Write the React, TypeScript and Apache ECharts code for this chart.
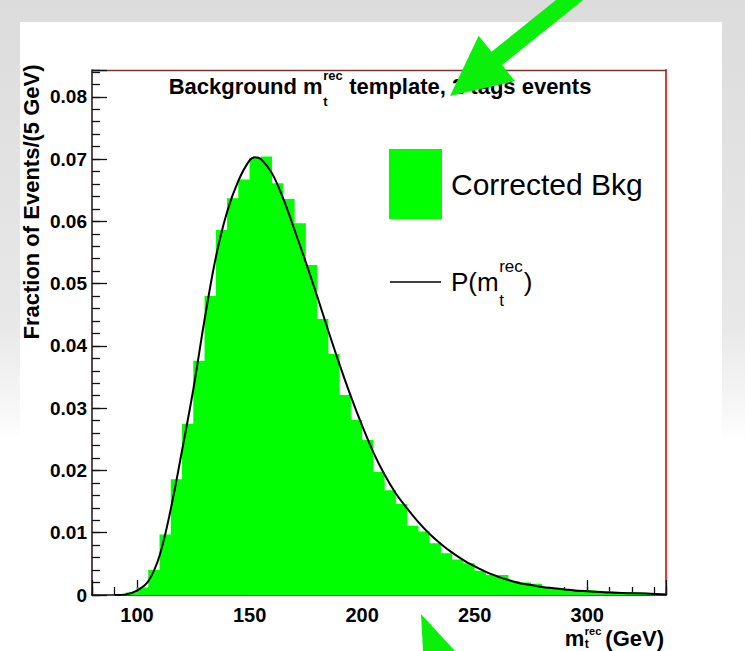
import React, { useEffect, useRef } from "react";
import * as echarts from "echarts";

const FONT = "'Liberation Sans', Arial, Helvetica, sans-serif";

// Histogram: fraction of events per 5 GeV bin (lower bin edges, GeV)
const BIN_WIDTH = 5;
const binLowEdges = [
  95, 100, 105, 110, 115, 120, 125, 130, 135, 140,
  145, 150, 155, 160, 165, 170, 175, 180, 185, 190,
  195, 200, 205, 210, 215, 220, 225, 230, 235, 240,
  245, 250, 255, 260, 265, 270, 275, 280, 285, 290,
  295, 300, 305, 310, 315, 320, 325, 330,
];
const binFractions = [
  0.0004, 0.0012, 0.004, 0.0097, 0.0186, 0.0275, 0.0376, 0.048, 0.0586, 0.0637,
  0.0667, 0.0702, 0.0704, 0.0661, 0.0636, 0.0597, 0.053, 0.0443, 0.0387, 0.0321,
  0.0281, 0.0249, 0.0198, 0.0168, 0.0146, 0.0111, 0.0102, 0.0083, 0.0067, 0.0057,
  0.0051, 0.0039, 0.0032, 0.0032, 0.0022, 0.002, 0.0018, 0.0013, 0.0011, 0.0009,
  0.0008, 0.0007, 0.0006, 0.0005, 0.0005, 0.0004, 0.0003, 0.0002,
];

// Fitted template P(m_t^rec)
const fitMass = [
  90, 95, 100, 105, 110, 115, 120, 125, 130, 135,
  140, 145, 150, 152.5, 155, 160, 165, 170, 175, 180,
  185, 190, 195, 200, 205, 210, 215, 220, 225, 230,
  235, 240, 245, 250, 255, 260, 265, 270, 275, 280,
  285, 290, 295, 300, 310, 320, 335,
];
const fitValue = [
  0, 0.0001, 0.0007, 0.0022, 0.0063, 0.0138, 0.0232, 0.033, 0.0442, 0.0542,
  0.0615, 0.0665, 0.0698, 0.0703, 0.07, 0.0677, 0.0636, 0.0586, 0.0534, 0.048,
  0.0424, 0.037, 0.0319, 0.0272, 0.0229, 0.0193, 0.0163, 0.0139, 0.0117, 0.0098,
  0.0082, 0.0068, 0.0056, 0.0046, 0.0037, 0.003, 0.0024, 0.0019, 0.0016, 0.0013,
  0.0011, 0.0009, 0.0007, 0.0006, 0.0004, 0.0003, 0.0001,
];

const xTickLabels = [100, 150, 200, 250, 300];
const yTickLabels = ["0", "0.01", "0.02", "0.03", "0.04", "0.05", "0.06", "0.07", "0.08"];

const X_MIN = 80;
const X_MAX = 335;
const Y_MIN = 0;
const Y_MAX = 0.0843;

function textWidth(text: string, font: string): number {
  const ctx = document.createElement("canvas").getContext("2d");
  if (!ctx) return text.length * 10;
  ctx.font = font;
  return ctx.measureText(text).width;
}

function txt(x: number, y: number, text: string, font: string, align = "left", extra: any = {}) {
  return {
    type: "text",
    x,
    y,
    z: 50,
    ...extra,
    style: {
      text,
      font,
      fill: "#000",
      align,
      verticalAlign: "middle",
      textAlign: align,
      textVerticalAlign: "middle",
    },
  };
}

function arrowPoints(tail: number[], tip: number[], shaftW: number, headL: number, headW: number) {
  const dx = tip[0] - tail[0];
  const dy = tip[1] - tail[1];
  const len = Math.hypot(dx, dy);
  const ux = dx / len;
  const uy = dy / len;
  const nx = -uy;
  const ny = ux;
  const bx = tip[0] - ux * headL;
  const by = tip[1] - uy * headL;
  return [
    [tail[0] + nx * shaftW / 2, tail[1] + ny * shaftW / 2],
    [bx + nx * shaftW / 2, by + ny * shaftW / 2],
    [bx + nx * headW / 2, by + ny * headW / 2],
    [tip[0], tip[1]],
    [bx - nx * headW / 2, by - ny * headW / 2],
    [bx - nx * shaftW / 2, by - ny * shaftW / 2],
    [tail[0] - nx * shaftW / 2, tail[1] - ny * shaftW / 2],
  ];
}

function buildGraphics() {
  const els: any[] = [];

  // Title: Background m_t^rec template, 2 tags events
  const tFont = `bold 22px ${FONT}`;
  const supFont = `bold 13px ${FONT}`;
  const p1 = "Background m";
  const p2 = " template, 2 tags events";
  const w1 = textWidth(p1, tFont);
  const wS = Math.max(textWidth("rec", supFont), textWidth("t", supFont));
  const w2 = textWidth(p2, tFont);
  const x0 = 380 - (w1 + wS + w2 + 1) / 2;
  els.push(txt(x0, 86, p1, tFont));
  els.push(txt(x0 + w1 + 0.5, 75, "rec", supFont));
  els.push(txt(x0 + w1 + 0.5, 101, "t", supFont));
  els.push(txt(x0 + w1 + wS + 1, 86, p2, tFont));

  // Legend
  els.push({
    type: "rect",
    z: 50,
    shape: { x: 389, y: 149, width: 53, height: 70 },
    style: { fill: "#00ff00" },
  });
  els.push(txt(451, 184, "Corrected Bkg", `30px ${FONT}`));
  els.push({
    type: "line",
    z: 50,
    shape: { x1: 390, y1: 282, x2: 441, y2: 282 },
    style: { stroke: "#000", lineWidth: 1.5 },
  });
  const lFont = `26px ${FONT}`;
  const lSup = `17px ${FONT}`;
  const wp = textWidth("P(m", lFont);
  const wr = Math.max(textWidth("rec", lSup), textWidth("t", lSup));
  els.push(txt(451, 281.5, "P(m", lFont));
  els.push(txt(451 + wp + 0.5, 266, "rec", lSup));
  els.push(txt(451 + wp + 0.5, 300, "t", lSup));
  els.push(txt(451 + wp + wr + 1.5, 281.5, ")", lFont));

  // X-axis title: m_t^rec (GeV), right-aligned to the frame
  const axFont = `bold 22px ${FONT}`;
  const axSup = `bold 11px ${FONT}`;
  const axSub = `bold 12px ${FONT}`;
  const wG = textWidth("(GeV)", axFont);
  const wR = Math.max(textWidth("rec", axSup), textWidth("t", axSub));
  const xG = 664 - wG;
  const xR = xG - 4 - wR;
  els.push(txt(664, 638, "(GeV)", axFont, "right"));
  els.push(txt(xR, 631, "rec", axSup));
  els.push(txt(xR, 644, "t", axSub));
  els.push(txt(xR - 0.5, 638, "m", axFont, "right"));

  // Y-axis title
  els.push(
    txt(31, 202, "Fraction of Events/(5 GeV)", `bold 22px ${FONT}`, "center", {
      rotation: Math.PI / 2,
    })
  );

  // Green arrows
  els.push({
    type: "polygon",
    z: 60,
    shape: { points: arrowPoints([582, -10], [450, 96], 17, 60, 58) },
    style: { fill: "#0bf00b" },
  });
  els.push({
    type: "polygon",
    z: 60,
    shape: { points: [[421, 614], [423, 651], [455, 651]] },
    style: { fill: "#0bf00b" },
  });
  return els;
}

export default function App() {
  const ref = useRef<HTMLDivElement>(null);

  useEffect(() => {
    if (!ref.current) return;
    const chart = echarts.init(ref.current, undefined, { renderer: "svg" });

    // step outline: each bin value holds from its lower edge to the next edge
    const histData: number[][] = binLowEdges.map((b, i) => [b, binFractions[i]]);
    histData.push([binLowEdges[binLowEdges.length - 1] + BIN_WIDTH, 0]);
    const fitData = fitMass.map((m, i) => [m, fitValue[i]]);

    const tickStyle = { color: "#111", width: 1.3 };

    const option: any = {
      animation: false,
      backgroundColor: "transparent",
      grid: { left: 92, right: 79, top: 70, bottom: 56, containLabel: false },
      xAxis: [
        {
          type: "value",
          min: X_MIN,
          max: X_MAX,
          splitNumber: 5,
          position: "bottom",
          axisLine: { show: true, onZero: false, lineStyle: { color: "#111", width: 1.6 } },
          axisTick: { show: true, inside: true, length: 15, lineStyle: tickStyle },
          axisLabel: {
            show: true,
            margin: 10,
            fontSize: 20,
            fontWeight: "bold",
            fontFamily: FONT,
            color: "#000",
            formatter: (v: number) => (xTickLabels.indexOf(v) >= 0 ? String(v) : ""),
          },
          splitLine: { show: false },
        },
        {
          type: "value",
          min: X_MIN,
          max: X_MAX,
          interval: 10,
          position: "bottom",
          axisLine: { show: false },
          axisTick: { show: true, inside: true, length: 8, lineStyle: tickStyle },
          axisLabel: { show: false },
          splitLine: { show: false },
        },
        {
          type: "value",
          min: X_MIN,
          max: X_MAX,
          position: "top",
          axisLine: { show: true, onZero: false, lineStyle: { color: "#7a3434", width: 1.3 } },
          axisTick: { show: false },
          axisLabel: { show: false },
          splitLine: { show: false },
        },
      ],
      yAxis: [
        {
          type: "value",
          min: Y_MIN,
          max: Y_MAX,
          splitNumber: 8,
          position: "left",
          axisLine: { show: true, onZero: false, lineStyle: { color: "#2e2020", width: 1.6 } },
          axisTick: { show: true, inside: true, length: 15, lineStyle: tickStyle },
          axisLabel: {
            show: true,
            margin: 5,
            fontSize: 19,
            fontWeight: "bold",
            fontFamily: FONT,
            color: "#000",
            formatter: (v: number) => {
              const k = Math.round(v * 100);
              if (Math.abs(v * 100 - k) > 1e-6) return "";
              return yTickLabels[k] ?? "";
            },
          },
          splitLine: { show: false },
        },
        {
          type: "value",
          min: Y_MIN,
          max: Y_MAX,
          interval: 0.002,
          position: "left",
          axisLine: { show: false },
          axisTick: { show: true, inside: true, length: 8, lineStyle: tickStyle },
          axisLabel: { show: false },
          splitLine: { show: false },
        },
        {
          type: "value",
          min: Y_MIN,
          max: Y_MAX,
          position: "right",
          axisLine: { show: true, onZero: false, lineStyle: { color: "#dd3b3b", width: 2 } },
          axisTick: { show: false },
          axisLabel: { show: false },
          splitLine: { show: false },
        },
      ],
      graphic: buildGraphics(),
      series: [
        {
          name: "Corrected Bkg",
          type: "line",
          xAxisIndex: 0,
          yAxisIndex: 0,
          step: "end",
          data: histData,
          symbol: "none",
          showSymbol: false,
          clip: true,
          z: 2,
          lineStyle: { width: 0, color: "#00ff00" },
          areaStyle: { color: "#00ff00", opacity: 1 },
        },
        {
          name: "P(m)",
          type: "line",
          xAxisIndex: 0,
          yAxisIndex: 0,
          data: fitData,
          smooth: 0.35,
          symbol: "none",
          showSymbol: false,
          clip: true,
          z: 3,
          lineStyle: { color: "#000", width: 2 },
        },
      ],
    };

    chart.setOption(option);
    return () => chart.dispose();
  }, []);

  return (
    <div
      style={{
        position: "absolute",
        left: 0,
        top: 0,
        width: 745,
        height: 651,
        overflow: "hidden",
        background: "linear-gradient(to bottom, #dcdcdc 0%, #e8e8e8 50%, #f6f6f6 62%, #ffffff 68%)",
      }}
    >
      <div
        style={{
          position: "absolute",
          left: 20,
          top: 22,
          width: 702,
          height: 629,
          background: "#ffffff",
        }}
      />
      <div ref={ref} style={{ position: "absolute", left: 0, top: 0, width: 745, height: 651 }} />
    </div>
  );
}
